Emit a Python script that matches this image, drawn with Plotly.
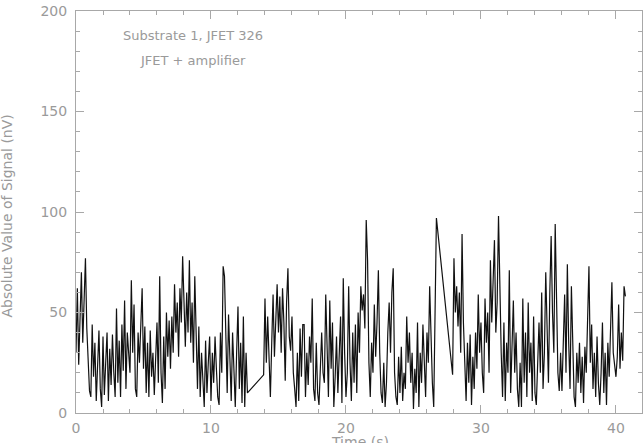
import numpy as np
import plotly.graph_objects as go

SAMPLE_DT = 0.1

run1_start = 0.0
run1_nv = [
    30, 62, 24, 55, 70, 35, 61, 77, 42, 24,
    11, 8, 44, 18, 35, 6, 28, 41, 12, 3,
    38, 9, 25, 40, 6, 32, 14, 39, 20, 8,
    52, 15, 36, 8, 44, 21, 56, 12, 40, 27,
    20, 66, 30, 54, 12, 8, 40, 25, 48, 62,
    22, 43, 10, 35, 8, 41, 18, 30, 9, 26,
    45, 15, 68, 20, 5, 38, 12, 50, 28, 46,
    22, 48, 30, 64, 40, 55, 28, 62, 45, 78,
    50, 33, 60, 40, 76, 35, 55, 25, 68, 45,
    12, 43, 8, 30, 18, 3, 36, 10, 25, 38,
    6, 30, 15, 38, 22, 8, 4, 40, 20, 73,
    68, 35, 10, 49, 22, 6, 40, 15, 3, 30,
    53, 12, 35, 5, 48, 3, 30, 10,
]

run2_start = 13.9
run2_nv = [
    19, 57, 25, 48, 23, 8, 35, 59, 28, 52,
    64, 40, 58, 30, 62, 45, 16, 55, 72, 38,
    31, 48, 20, 12, 3, 30, 6, 42, 18, 44,
    44, 8, 30, 14, 38, 25, 57, 12, 6, 35,
    10, 4, 28, 40, 20, 15, 59, 30, 8, 56,
    22, 45, 3, 18, 38, 10, 30, 48, 5, 67,
    30, 8, 20, 63, 25, 6, 40, 15, 44, 10,
    50, 30, 63, 51, 59, 42, 96, 76, 25, 8,
    35, 20, 54, 28, 45, 71, 30, 10, 5, 25,
    3, 15, 40, 55, 30, 60, 72, 20, 8, 4,
    28, 10, 33, 6, 20, 12, 48, 25, 40, 15,
    30, 2, 22, 10, 45, 3, 30, 15, 44, 20,
    8, 40, 25, 63, 35, 15, 3, 50, 97,
]

run3_start = 27.9
run3_nv = [
    19, 77, 50, 63, 43, 60, 30, 89, 45, 20,
    6, 35, 15, 39, 4, 28, 12, 40, 22, 59,
    30, 45, 20, 10, 57, 35, 50, 20, 76, 45,
    65, 86, 40, 55, 98, 60, 30, 8, 45, 6,
    35, 20, 71, 10, 30, 56, 20, 40, 12, 3,
    25, 3, 57, 15, 40, 8, 55, 20, 35, 6,
    48, 10, 4, 25, 45, 20, 60, 12, 30, 70,
    40, 15, 60, 88, 50, 30, 94, 65, 20, 11,
    30, 11, 40, 59, 20, 74, 35, 12, 63, 25,
    8, 3, 30, 15, 35, 10, 28, 5, 33, 20,
    45, 73, 25, 44, 12, 30, 8, 38, 15, 4,
    20, 45, 10, 30, 4, 35, 18, 50, 65, 30,
    25, 18, 28, 54, 22, 40, 26, 63, 58,
]

runs = [(run1_start, run1_nv), (run2_start, run2_nv), (run3_start, run3_nv)]
t = np.concatenate([start + SAMPLE_DT * np.arange(len(v)) for start, v in runs])
signal = np.concatenate([np.array(v, dtype=float) for _, v in runs])

label_lines = ["Substrate 1, JFET 326", "JFET + amplifier"]

axis_grey = '#a8a8a8'
text_grey = '#9a9a9a'
tick_font = dict(family='DejaVu Sans', size=14, color=text_grey)
note_font = dict(family='DejaVu Sans', size=13, color=text_grey)

fig = go.Figure()
fig.add_trace(go.Scatter(x=t, y=signal, mode='lines',
                         line=dict(color='#111111', width=1.2),
                         showlegend=False, hoverinfo='skip'))

common = dict(showline=True, linecolor=axis_grey, linewidth=1, mirror='ticks',
              ticks='inside', ticklen=8, tickcolor=axis_grey, tickwidth=1,
              showgrid=False, zeroline=False, tickfont=tick_font)

fig.update_xaxes(range=[0, 41.93], tickvals=[0, 10, 20, 30, 40],
                 minor=dict(ticks='inside', ticklen=4, dtick=2, tickcolor=axis_grey, showgrid=False),
                 ticklabelstandoff=2, **common)
fig.update_yaxes(range=[0, 200], tickvals=[0, 50, 100, 150, 200],
                 minor=dict(ticks='inside', ticklen=4, dtick=10, tickcolor=axis_grey, showgrid=False),
                 ticklabelstandoff=5, **common)

fig.add_annotation(x=8.67, y=187.8, xref='x', yref='y', text=label_lines[0],
                   showarrow=False, font=note_font)
fig.add_annotation(x=8.67, y=175.4, xref='x', yref='y', text=label_lines[1],
                   showarrow=False, font=note_font)

# axis titles as annotations so they sit where the original puts them
fig.add_annotation(x=0.502, y=-0.072, xref='paper', yref='paper', text='Time (s)',
                   showarrow=False, font=tick_font, yanchor='middle')
fig.add_annotation(x=-0.121, y=0.49, xref='paper', yref='paper',
                   text='Absolute Value of Signal (nV)', textangle=-90,
                   showarrow=False, font=tick_font, xanchor='center')

fig.update_layout(width=644, height=443, margin=dict(l=76, r=2, t=11, b=30),
                  plot_bgcolor='white', paper_bgcolor='white')

# page body margin would shift the figure by 8px
fig.write_html("out.html", config={'displayModeBar': False},
               post_script="document.body.style.margin='0';")
